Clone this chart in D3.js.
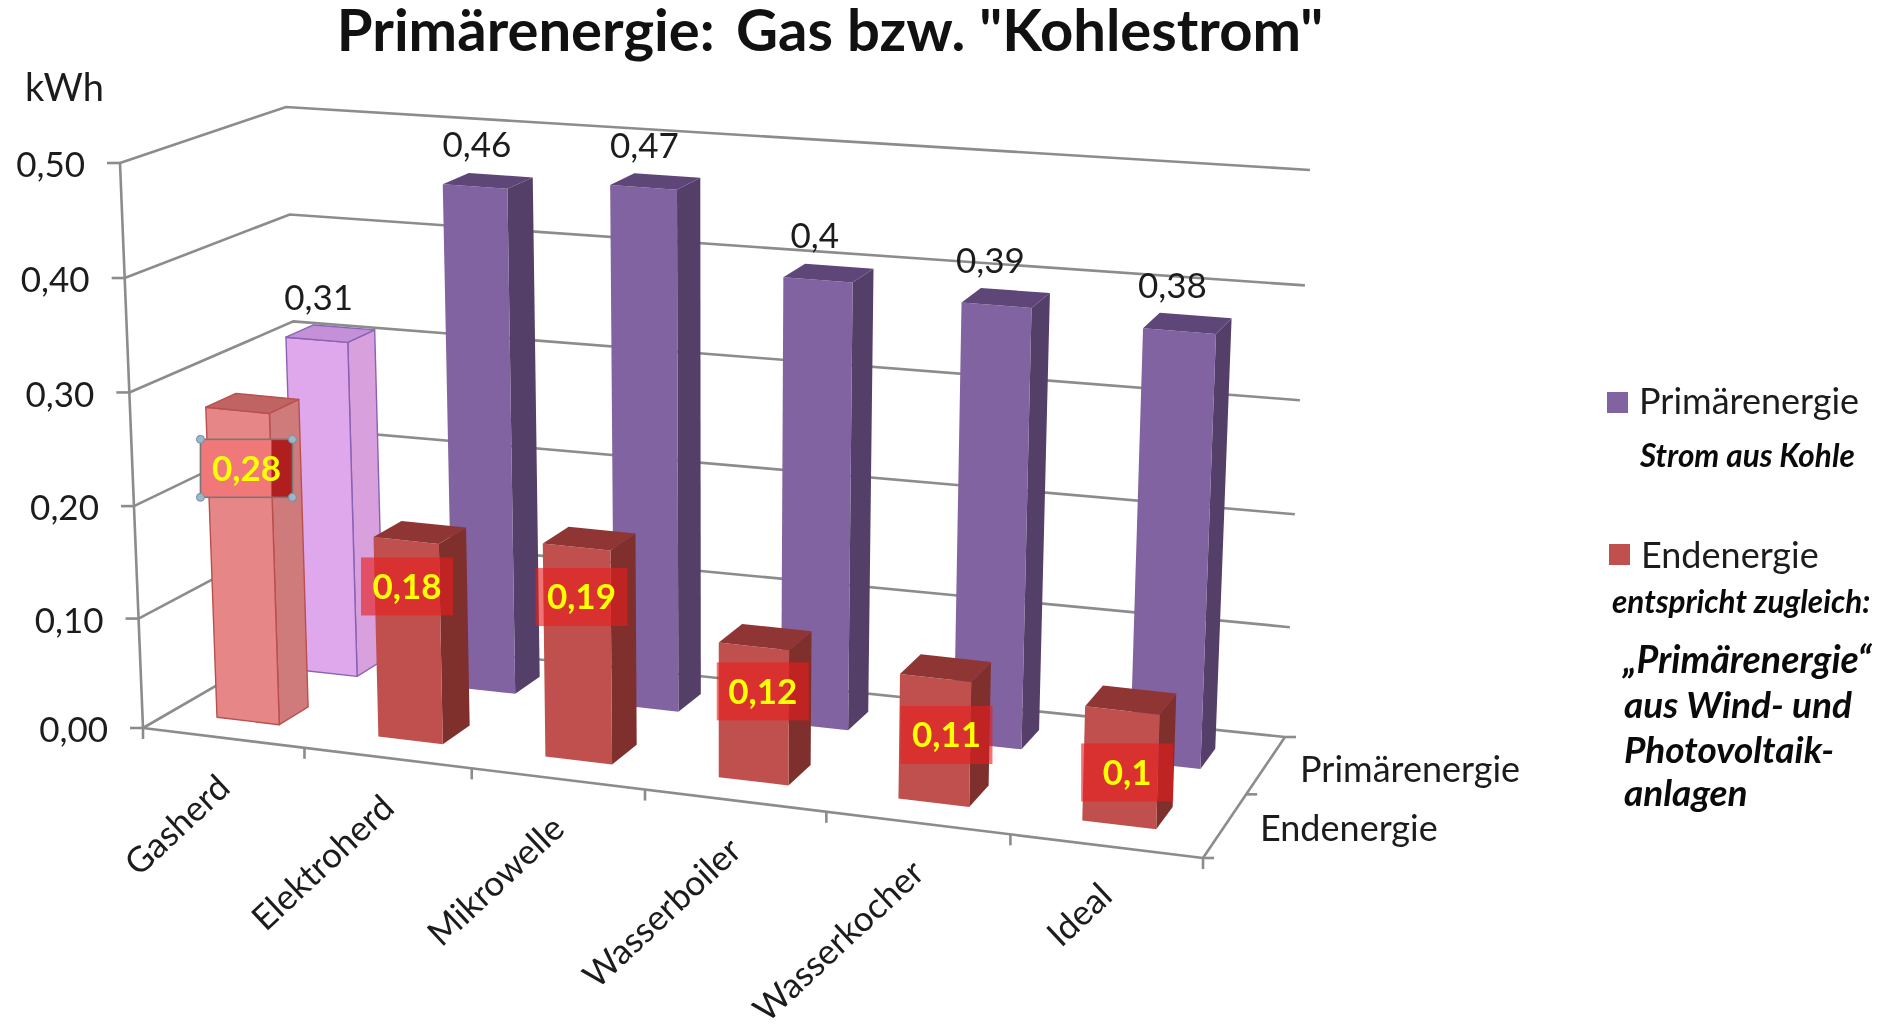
<!DOCTYPE html>
<html><head><meta charset="utf-8">
<script src="https://cdn.jsdelivr.net/npm/d3@7/dist/d3.min.js"></script>
<style>html,body{margin:0;background:#fff}svg{display:block;filter:blur(.5px)}text{font-family:Lato,Carlito,"Open Sans",sans-serif;fill:#1c1c1c}</style>
</head><body><svg id="c" width="1890" height="1029"></svg>
<script>
const categories=["Gasherd","Elektroherd","Mikrowelle","Wasserboiler","Wasserkocher","Ideal"];
const seriesNames=["Endenergie","Primärenergie"];
const endValues=[0.28,0.18,0.19,0.12,0.11,0.1];
const primaryValues=[0.31,0.46,0.47,0.4,0.39,0.38];
const valueTicks=[0,0.1,0.2,0.3,0.4,0.5];

// label placement (hand-placed in the original)
const endLabelDrop=[58,46,50,45,57,62];
const endLabelShift=[9,1,5,9,11,5];
const primLabelShift=[2,2,1,-3,-6,-7];

// projection calibration: screen corners of the floor, and full-height offset at each corner
const FL=[143,728],FR=[1203,858],BR=[1285,737],BL=[304,635];
const offFL=[-23,-565],offFR=[19,-600],offBR=[25,-567],offBL=[-18,-528];
function quadMap(q){
  const [[x0,y0],[x1,y1],[x2,y2],[x3,y3]]=q;
  const dx1=x1-x2,dx2=x3-x2,sx=x0-x1+x2-x3,dy1=y1-y2,dy2=y3-y2,sy=y0-y1+y2-y3;
  const D=dx1*dy2-dx2*dy1,g=(sx*dy2-dx2*sy)/D,h=(dx1*sy-sx*dy1)/D;
  const a=x1-x0+g*x1,b=x3-x0+h*x3,d=y1-y0+g*y1,e=y3-y0+h*y3;
  return (u,v)=>{const w=g*u+h*v+1;return [(a*u+b*v+x0)/w,(d*u+e*v+y0)/w];};
}
const floorMap=quadMap([FL,FR,BR,BL]);
const mix=(a,b,s)=>[a[0]+(b[0]-a[0])*s,a[1]+(b[1]-a[1])*s];
const uWarp=d3.scaleLinear().domain(d3.range(7).map(i=>i/6)).range([0,1.05,2.08,3.09,4.09,5.05,6].map(i=>i/6));
const P=(u,v,t)=>{
  const f=floorMap(uWarp(u),v),L=floorMap(0,v),R=floorMap(1,v);
  const s=(f[0]-L[0])/(R[0]-L[0]),vs=(L[0]-FL[0])/(BL[0]-FL[0]);
  const off=mix(mix(offFL,offBL,vs),mix(offFR,offBR,vs),s);
  return [f[0]+off[0]*t,f[1]+off[1]*t];
};

const uScale=d3.scaleBand().domain(categories).range([-0.002,0.998]).paddingInner(0.61).paddingOuter(0.305);
const dScale=d3.scaleBand().domain(seriesNames).range([0.05,0.95]).paddingInner(0.64).paddingOuter(0.225);
const hScale=d3.scalePow().exponent(1.02).domain([0,0.5]).range([0,1]);
const edge=d3.scalePoint().domain(d3.range(categories.length+1)).range([0,1]);
const path=d3.line();
const svg=d3.select("#c");
const GRID="#8c8c8c";
const gGrid=svg.append("g").attr("fill","none").attr("stroke",GRID).attr("stroke-width",2.6);
function ln(a,b){gGrid.append("path").attr("d",path([a,b]));}
valueTicks.forEach(v=>{const t=hScale(v);
  const a=P(0,0,t),b=P(0,1,t),c=P(1,1,t);
  gGrid.append("path").attr("d",path([a,b,c]));
  ln([a[0]-13,a[1]],a);
  ln(c,[c[0]+(v===0?11:0),c[1]]);
  svg.append("text").attr("x",a[0]-35).attr("y",a[1]+2).attr("dy","0.35em").attr("text-anchor","end")
    .attr("font-size",35).text(d3.format(".2f")(v).replace(".",","));
});
ln(P(0,0,0),P(0,0,1));
ln(P(0,0,0),P(1,0,0));
ln(P(1,0,0),P(1,1,0));
edge.domain().forEach(i=>{const a=P(edge(i),0,0);ln(a,[a[0],a[1]+11]);});
[0,0.5].forEach(d=>{const a=P(1,d,0);ln(a,[a[0]+11,a[1]]);});

const styles={
 red:{front:"#c0504d",side:"#7f2f2c",top:"#8f3634",stroke:"none"},
 purple:{front:"#8063a0",side:"#543f68",top:"#5e4679",stroke:"none"},
 lightred:{front:"#e68686",side:"#cf7b7b",top:"#bf6363",stroke:"#b9504e"},
 pink:{front:"#e0a8ec",side:"#d8a0dc",top:"#c491d8",stroke:"#8a62b4"}
};
function bar(cat,series,val,st){
  const u0=uScale(cat),u1=u0+uScale.bandwidth(),d0=dScale(series),d1=d0+dScale.bandwidth(),t=hScale(val);
  const g=svg.append("g").attr("stroke",st.stroke).attr("stroke-width",st.stroke==="none"?0:1.4).attr("stroke-linejoin","round");
  g.append("path").attr("fill",st.side).attr("d",path([P(u1,d0,0),P(u1,d1,0),P(u1,d1,t),P(u1,d0,t)])+"Z");
  g.append("path").attr("fill",st.front).attr("d",path([P(u0,d0,0),P(u1,d0,0),P(u1,d0,t),P(u0,d0,t)])+"Z");
  g.append("path").attr("fill",st.top).attr("d",path([P(u0,d0,t),P(u1,d0,t),P(u1,d1,t),P(u0,d1,t)])+"Z");
}
const lbl=v=>String(v).replace(".",",");
// back row
categories.forEach((c,i)=>bar(c,"Primärenergie",primaryValues[i],i===0?styles.pink:styles.purple));
categories.forEach((c,i)=>{
  const u=uScale(c)+uScale.bandwidth()/2,d=dScale("Primärenergie");
  const t=hScale(primaryValues[i]),p=P(u,d,t),q=P(u,d+dScale.bandwidth(),t);
  svg.append("text").attr("x",p[0]+primLabelShift[i]).attr("y",q[1]-30).attr("dy","0.35em").attr("text-anchor","middle").attr("font-size",35).text(lbl(primaryValues[i]));
});
// front row
categories.forEach((c,i)=>bar(c,"Endenergie",endValues[i],i===0?styles.lightred:styles.red));
categories.forEach((c,i)=>{
  const u=uScale(c)+uScale.bandwidth()/2,d=dScale("Endenergie");
  const p=P(u,d,hScale(endValues[i]));
  const cx=p[0]+endLabelShift[i],cy=p[1]+endLabelDrop[i],w=92,h=58;
  if(i===0){
    const xr=P(uScale(c)+uScale.bandwidth(),d,hScale(endValues[i]))[0]+2;
    svg.append("rect").attr("x",cx-w/2).attr("y",cy-h/2).attr("width",w).attr("height",h).attr("fill","#f07878");
    svg.append("rect").attr("x",xr).attr("y",cy-h/2).attr("width",cx+w/2-xr).attr("height",h).attr("fill","#b01e1e");
    svg.append("rect").attr("x",cx-w/2).attr("y",cy-h/2).attr("width",w).attr("height",h).attr("fill","none").attr("stroke","#777").attr("stroke-width",1.6);
    [[-1,-1],[1,-1],[-1,1],[1,1]].forEach(([a,b])=>svg.append("circle").attr("cx",cx+a*w/2).attr("cy",cy+b*h/2).attr("r",4).attr("fill","#9db7c8").attr("stroke","#6f8fa6"));
  } else {
    svg.append("rect").attr("x",cx-w/2).attr("y",cy-h/2).attr("width",w).attr("height",h).attr("fill","#e61e1e").attr("fill-opacity",0.62);
  }
  svg.append("text").attr("x",cx).attr("y",cy).attr("dy","0.35em").attr("text-anchor","middle").attr("font-size",35).attr("font-weight",700)
    .style("fill","#ffff00").text(lbl(endValues[i]));
});
// category labels
categories.forEach(c=>{
  const p=P(uScale(c)+uScale.bandwidth()/2,0,0);
  svg.append("text").attr("transform",`translate(${p[0]+3},${p[1]+44}) rotate(-43)`).attr("text-anchor","end").attr("dy","0.35em").attr("font-size",35).text(c);
});
// depth labels
[["Primärenergie",1300,769],["Endenergie",1260,828]].forEach(([t,x,y])=>svg.append("text").attr("x",x).attr("y",y).attr("dy","0.35em").attr("font-size",36).text(t));
// title etc
svg.append("text").attr("x",830).attr("y",51).attr("text-anchor","middle").attr("font-size",58).attr("font-weight",700).style("fill","#111").style("white-space","pre").text('Primärenergie: \u2009Gas bzw. "Kohlestrom"');
svg.append("text").attr("x",25).attr("y",101).attr("font-size",38).text("kWh");
// legend
const lg=svg.append("g");
lg.append("rect").attr("x",1607).attr("y",392).attr("width",21).attr("height",21).attr("fill","#8063a0");
lg.append("rect").attr("x",1609).attr("y",544).attr("width",21).attr("height",21).attr("fill","#c0504d");
lg.append("text").attr("x",1639).attr("y",414).attr("font-size",36).text("Primärenergie");
lg.append("text").attr("x",1641).attr("y",568).attr("font-size",36).text("Endenergie");
const notes=[["Strom aus Kohle",1640,467,31.5],["entspricht zugleich:",1612,613,31.5],["„Primärenergie“",1623,673,37.5],["aus Wind- und",1624,718,37],["Photovoltaik-",1624,763,37],["anlagen",1624,806,37]];
notes.forEach(([t,x,y,s])=>lg.append("text").attr("x",x).attr("y",y).attr("font-size",s).attr("font-weight",700).attr("font-style","italic").style("fill","#0a0a0a").text(t));
</script></body></html>
